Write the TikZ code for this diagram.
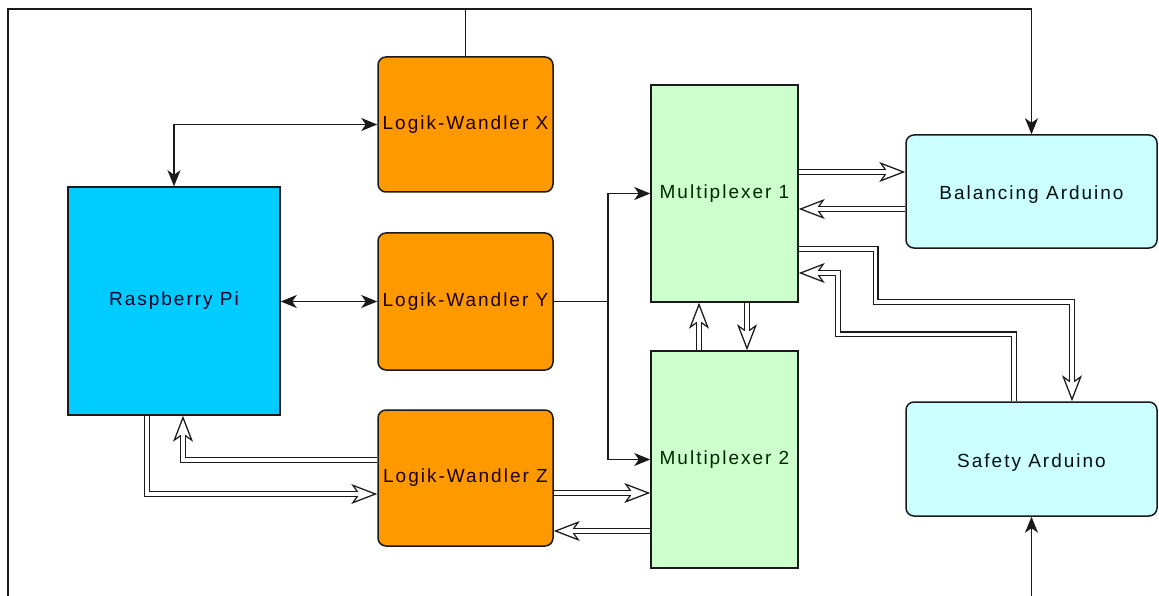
\documentclass[tikz,border=0pt]{standalone}
\usepackage{fontspec}
\setmainfont{Liberation Sans}
\usetikzlibrary{arrows.meta}
\definecolor{rpiC}{HTML}{00CCFF}
\definecolor{lwC}{HTML}{FF9900}
\definecolor{muxC}{HTML}{CCFFCC}
\definecolor{ardC}{HTML}{CCFFFF}
\definecolor{lineC}{HTML}{1A1A1A}
\newcommand\boxlbl{\fontsize{19}{22}\selectfont\addfontfeature{LetterSpace=10.5}}
\begin{document}
\begin{tikzpicture}[x=1pt,y=-1pt,
  box/.style={draw=lineC, line width=1.5pt, inner sep=0pt, font=\boxlbl},
  rpibox/.style={box, fill=rpiC, text=black!85!blue},
  lwbox/.style={box, fill=lwC, rounded corners=8pt, text=black!88!red, minimum width=175pt},
  muxbox/.style={box, fill=muxC, text=black!85!green, minimum width=147pt, minimum height=217pt},
  ardbox/.style={box, fill=ardC, rounded corners=8pt, text=black!88!teal, minimum width=251pt, text height=21pt, text depth=4pt},
  conn/.style={draw=lineC, line width=1.5pt},
  tipA/.style={-{Stealth[length=16pt,width=13pt,inset=4.5pt]}},
  tipAB/.style={{Stealth[length=16pt,width=13pt,inset=4.5pt]}-{Stealth[length=16pt,width=13pt,inset=4.5pt]}},
  dbl/.style={draw=white, line width=3.2pt, shorten >=3.9pt,
    -{Stealth[length=18.3pt,width=14.1pt,inset=4.9pt,line width=0pt]},
    preaction={draw=lineC, line width=6pt, shorten >=0pt,
      -{Stealth[length=26pt,width=20pt,inset=7pt,line width=0pt]}}}
]
\useasboundingbox[fill=white] (0,0) rectangle (1159,596);

% nodes
\node[rpibox, minimum width=212pt, minimum height=228pt] (rpi) at (174,301) {Raspberry Pi};
\node[lwbox, minimum height=135pt] (lwx) at (465.5,124.5) {Logik-Wandler X};
\node[lwbox, minimum height=137pt] (lwy) at (465.5,301.5) {Logik-Wandler Y};
\node[lwbox, minimum height=136pt] (lwz) at (465.5,478) {Logik-Wandler Z};
\node[muxbox] (m1) at (724.5,193.5) {Multiplexer 1};
\node[muxbox] (m2) at (724.5,459.5) {Multiplexer 2};
\node[ardbox, minimum height=113pt] (ba) at (1031.5,191.5) {Balancing Arduino};
\node[ardbox, minimum height=114pt] (sa) at (1031.5,459) {Safety Arduino};

% helper coordinates
\coordinate (top) at (465.5,9);
\coordinate (bl) at (8,596);
\coordinate (br) at (1031.5,596);
\coordinate (split) at (608,301.5);

% single-line connectors
\draw[conn] (lwx.north) -- (top);
\draw[conn, tipA] (top) -| (ba.north);
\draw[conn] (top) -| (bl);
\draw[conn, tipA] (br) -- (sa.south);
\draw[conn, tipAB] (rpi.north) |- (lwx.west);
\draw[conn, tipAB] (lwy.west -| rpi.east) -- (lwy.west);
\draw[conn] (lwy.east) -- (split);
\draw[conn, tipA] (split) |- (m1.west);
\draw[conn, tipA] (split) |- (m2.west);

% double-line connectors
\draw[dbl] ([xshift=-27pt]rpi.south) |- ([yshift=-16pt]lwz.west);
\draw[dbl] ([yshift=18pt]lwz.west) -| ([xshift=9pt]rpi.south);
\draw[dbl] ([yshift=-15pt]lwz.east) -- ([yshift=-15pt]lwz.east -| m2.west);
\draw[dbl] ([yshift=-53pt]lwz.east -| m2.west) -- ([yshift=-53pt]lwz.east);
\draw[dbl] ([yshift=21.5pt]m1.east) -- ([yshift=21.5pt]m1.east -| ba.west);
\draw[dbl] ([yshift=-17.5pt]ba.west) -- ([yshift=-17.5pt]ba.west -| m1.east);
\draw[dbl] ([xshift=-25.5pt]m2.north) -- ([xshift=-25.5pt]m1.south);
\draw[dbl] ([xshift=22.5pt]m1.south) -- ([xshift=22.5pt]m2.north);
\draw[dbl] ([yshift=-55.5pt]m1.east) -- ++(77,0) -- ++(0,53) -| ([xshift=40.5pt]sa.north);
\draw[dbl] ([xshift=-17.5pt]sa.north) -- ++(0,-67) -- ++(-176,0) |- ([yshift=-79.5pt]m1.east);
\end{tikzpicture}
\end{document}
